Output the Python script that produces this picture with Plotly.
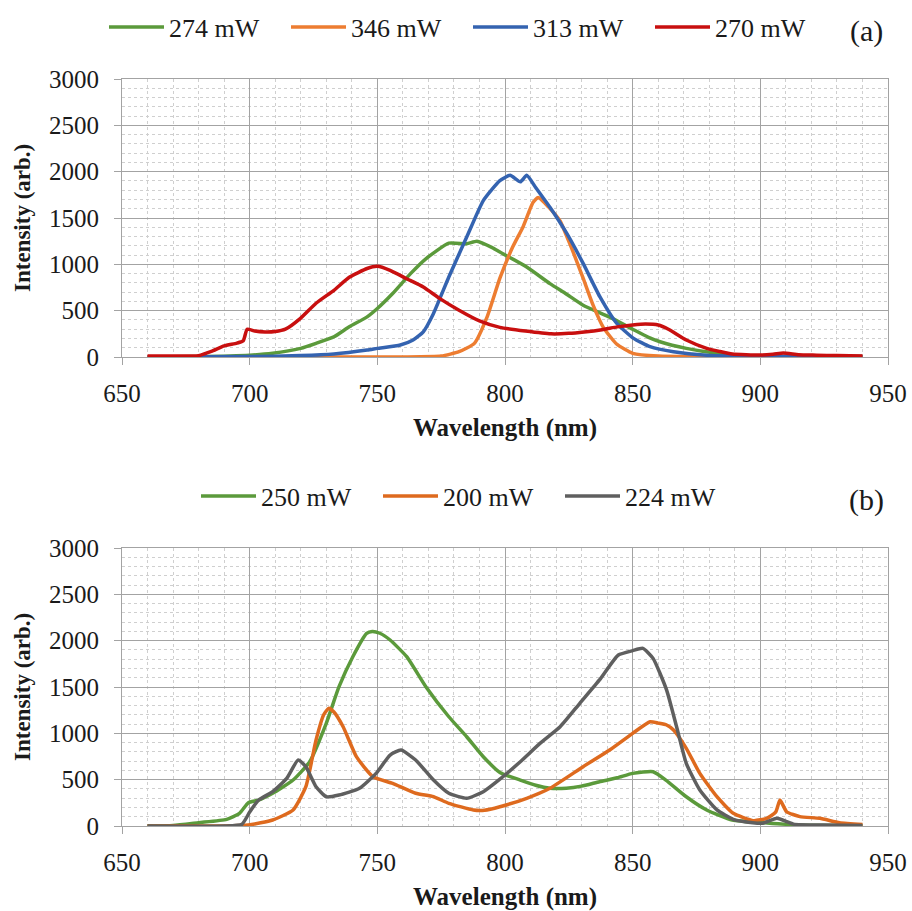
import plotly.graph_objects as go

# ---- panel (a) data ----
wl_a_274 = [660, 680, 700, 709, 720, 726, 733, 739, 746, 750, 756, 763, 769, 778, 785,
            789, 795, 798, 808.5, 817.6, 824, 830.6, 841, 850, 856, 860.7, 871, 883, 896, 920, 940]
int_a_274 = [0, 5, 20, 40, 93, 147, 218, 326, 433, 523, 685, 900, 1060, 1229, 1222,
             1250, 1180, 1132, 971, 792, 680, 559, 430, 300, 215, 165, 93, 40, 10, 5, 5]

wl_a_346 = [660, 760, 775, 782, 788, 793, 798, 803, 807, 811, 813, 817, 821.5, 826,
            830.6, 834.5, 838.5, 843.7, 850, 860, 940]
int_a_346 = [0, 0, 10, 57, 147, 433, 850, 1186, 1401, 1670, 1720, 1620, 1470, 1180,
             850, 560, 320, 140, 40, 10, 5]

wl_a_313 = [660, 700, 720, 733, 746, 750, 759, 764, 768, 772, 778, 785, 791.5, 798, 802,
            806, 808.5, 812, 817.6, 824.2, 830.6, 837.2, 843.7, 850.2, 856.8, 866, 879, 892, 940]
int_a_313 = [0, 5, 15, 32, 75, 93, 129, 183, 272, 470, 863, 1294, 1688, 1903, 1960,
             1890, 1960, 1830, 1616, 1333, 1010, 648, 365, 204, 111, 57, 20, 10, 5]

wl_a_270 = [660, 670, 680, 685, 690, 695, 697.5, 699, 702, 706, 710, 714, 720, 726, 733,
            739, 746, 750, 755, 761.5, 768, 774.5, 782, 790, 798, 808, 818, 825, 831, 838,
            844, 850, 855, 860, 864, 871, 879, 884, 889, 900, 905, 909, 915, 922, 930, 940]
int_a_270 = [10, 10, 15, 60, 120, 150, 175, 300, 280, 270, 275, 300, 420, 580, 720,
             860, 955, 978, 935, 845, 756, 630, 505, 390, 320, 280, 250, 255, 270, 295,
             325, 345, 355, 345, 300, 183, 93, 60, 32, 21, 30, 43, 25, 20, 15, 10]

# ---- panel (b) data ----
wl_b_250 = [660, 670, 680, 691, 696, 699.5, 703.5, 709, 717, 723.5, 730, 735, 740.4, 745.8,
            748, 751, 755, 761.5, 769, 778, 785, 791.5, 798, 806, 812, 817.6, 824, 830,
            837, 844, 850, 858, 863, 871, 879, 889, 902, 915, 940]
int_b_250 = [0, 5, 36, 72, 137, 252, 280, 353, 496, 694, 1108, 1503, 1827, 2079,
             2100, 2080, 2007, 1827, 1503, 1179, 963, 748, 577, 496, 440, 407, 407, 430,
             478, 520, 568, 586, 496, 316, 173, 65, 35, 10, 5]

wl_b_200 = [660, 690, 699.5, 709, 717, 722, 726, 729, 731, 733, 736.6, 741.8, 748.3, 756,
            765, 772, 778, 787.6, 792, 798, 808.5, 817.6, 830.6, 841, 850, 856.8, 860,
            863.3, 866, 871, 876.3, 883, 889.4, 897.3, 902.5, 906, 907.7, 910.3, 915.5,
            923.3, 931, 940]
int_b_200 = [0, 0, 10, 65, 173, 424, 928, 1200, 1270, 1230, 1071, 748, 532, 460,
             353, 316, 245, 173, 170, 208, 299, 407, 640, 820, 1000, 1125, 1110,
             1090, 1036, 838, 568, 316, 137, 58, 83, 150, 280, 154, 101,
             83, 35, 15]

wl_b_224 = [660, 690, 697, 700, 703.5, 709, 714.5, 719, 722, 726, 730, 735, 743, 749.5,
            755, 759.3, 765, 772, 778, 785, 791.5, 798, 806, 813.7, 821.6, 829.3, 837,
            844.4, 850, 854, 858, 863.3, 867.2, 871, 876.3, 883, 889.4, 897, 901, 906.5,
            913, 925, 940]
int_b_224 = [0, 0, 20, 150, 280, 370, 514, 712, 640, 424, 316, 334, 407, 568,
             766, 820, 712, 496, 353, 299, 370, 505, 694, 892, 1071, 1324, 1576,
             1845, 1892, 1917, 1809, 1467, 1071, 676, 388, 173, 72, 35, 30, 83,
             20, 10, 5]

W, H = 912, 911
SERIF = '"Liberation Serif", "Times New Roman", serif'
MAJOR = "#A3A3A3"
MINOR = "#CFCFCF"
TXT = "#1a1a1a"

fig = go.Figure()

panel_a = [
    ("274 mW", wl_a_274, int_a_274, "#5B9A3B"),
    ("346 mW", wl_a_346, int_a_346, "#ED7D31"),
    ("313 mW", wl_a_313, int_a_313, "#3463B0"),
    ("270 mW", wl_a_270, int_a_270, "#C80F0F"),
]
panel_b = [
    ("250 mW", wl_b_250, int_b_250, "#5B9A3B"),
    ("200 mW", wl_b_200, int_b_200, "#DE6A1E"),
    ("224 mW", wl_b_224, int_b_224, "#5F5F5F"),
]

for name, x, y, c in panel_a:
    fig.add_trace(go.Scatter(x=x, y=y, name=name, mode="lines",
                             line=dict(color=c, width=3.5, shape="spline", smoothing=0.5),
                             xaxis="x", yaxis="y", legend="legend"))
for name, x, y, c in panel_b:
    fig.add_trace(go.Scatter(x=x, y=y, name=name, mode="lines",
                             line=dict(color=c, width=3.5, shape="spline", smoothing=0.5),
                             xaxis="x2", yaxis="y2", legend="legend2"))


def px_x(p):
    return p / W


def px_y(p):
    return 1 - p / H


def xaxis_style(anchor):
    return dict(
        domain=[px_x(122), px_x(888)], anchor=anchor, range=[650, 950],
        dtick=50, tick0=650, showline=True, linecolor=MAJOR, mirror=True,
        ticks="outside", ticklen=7, tickcolor=MAJOR, ticklabelstandoff=7,
        showgrid=True, gridcolor=MAJOR, gridwidth=1, zeroline=False,
        minor=dict(dtick=10, showgrid=True, gridcolor=MINOR, griddash="dot"),
        tickfont=dict(family=SERIF, size=25, color=TXT), automargin=False,
    )


def yaxis_style(anchor, top, bottom):
    return dict(
        domain=[px_y(bottom), px_y(top)], anchor=anchor, range=[0, 3000],
        dtick=500, showline=True, linecolor=MAJOR, mirror=True,
        ticks="outside", ticklen=7, tickcolor=MAJOR, ticklabelstandoff=10,
        showgrid=True, gridcolor=MAJOR, gridwidth=1, zeroline=False,
        minor=dict(dtick=100, showgrid=True, gridcolor=MINOR, griddash="dot"),
        tickfont=dict(family=SERIF, size=25, color=TXT), automargin=False,
    )


legend_common = dict(orientation="h", xanchor="left", yanchor="middle",
                      font=dict(family=SERIF, size=26, color=TXT),
                      itemwidth=55, entrywidth=112, entrywidthmode="pixels",
                      bgcolor="rgba(0,0,0,0)")

annotations = []
for label, ymid, ytitle, tag_y in [("a", 218, 428, 31), ("b", 687, 897, 500)]:
    annotations.append(dict(text="<b>Intensity (arb.)</b>", x=px_x(22), y=px_y(ymid),
                            xref="paper", yref="paper", textangle=-90, showarrow=False,
                            xanchor="center", yanchor="middle",
                            font=dict(family=SERIF, size=23, color=TXT)))
    annotations.append(dict(text="<b>Wavelength (nm)</b>", x=px_x(505), y=px_y(ytitle),
                            xref="paper", yref="paper", showarrow=False,
                            xanchor="center", yanchor="middle",
                            font=dict(family=SERIF, size=25, color=TXT)))
    annotations.append(dict(text=f"({label})", x=px_x(866), y=px_y(tag_y),
                            xref="paper", yref="paper", showarrow=False,
                            xanchor="center", yanchor="middle",
                            font=dict(family=SERIF, size=30, color=TXT)))

fig.update_layout(
    width=W, height=H, autosize=False,
    margin=dict(l=0, r=0, t=0, b=0, autoexpand=False),
    paper_bgcolor="white", plot_bgcolor="white",
    xaxis=xaxis_style("y"),
    yaxis=yaxis_style("x", 79, 357),
    xaxis2=xaxis_style("y2"),
    yaxis2=yaxis_style("x2", 548, 826),
    legend=dict(legend_common, x=px_x(104), y=px_y(27)),
    legend2=dict(legend_common, x=px_x(196), y=px_y(496)),
    annotations=annotations,
    showlegend=True,
)

# drop the browser's default 8px body margin so the figure fills the window exactly
fig.write_html("out.html", config={"displayModeBar": False},
               post_script="document.body.style.margin='0';")
